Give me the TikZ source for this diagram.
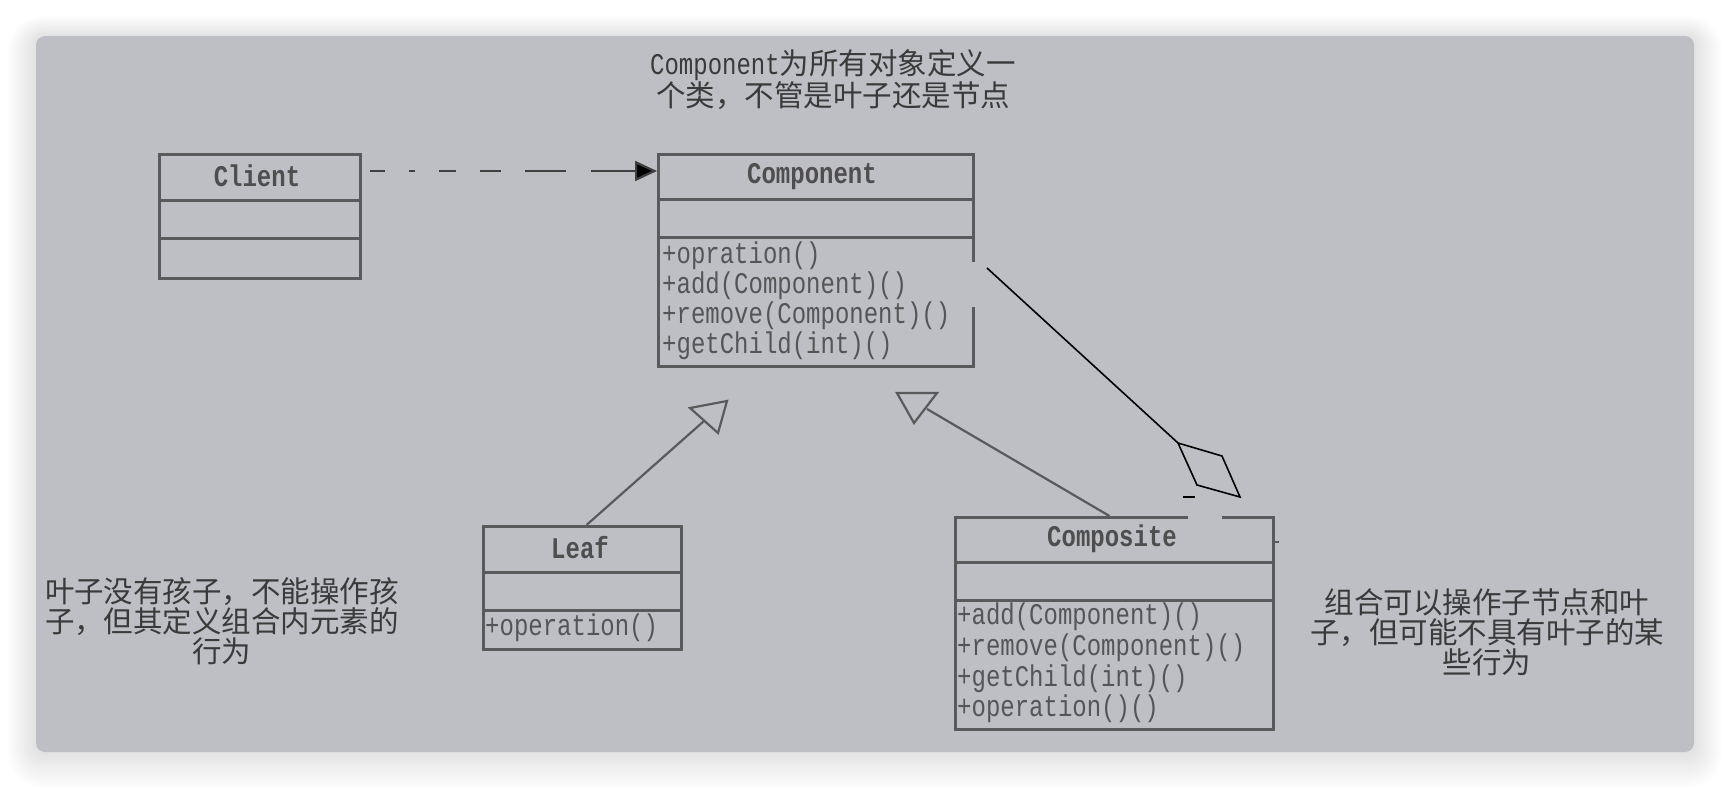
\documentclass[tikz,border=0pt]{standalone}
\usepackage{fontspec}
\setmainfont{Liberation Serif}
\newfontfamily\cjk{Noto Sans CJK SC}
\newfontfamily\umlfont[FakeStretch=0.8]{Liberation Mono}
\usetikzlibrary{arrows.meta,calc}
\definecolor{bg}{HTML}{BEBFC4}
\definecolor{boxline}{HTML}{5A5A5C}
\definecolor{txt}{HTML}{3A3A3A}
\definecolor{mtxt}{HTML}{555557}
\tikzset{
  umlbox/.style={draw=boxline, line width=3pt, rectangle, inner sep=0pt, anchor=north west},
  divider/.style={draw=boxline, line width=3pt},
  boxtitle/.style={font=\umlfont\bfseries\fontsize{30}{30}\selectfont, text=txt!85!bg, inner sep=0pt},
  method/.style={font=\umlfont\fontsize{30}{30}\selectfont, text=mtxt, anchor=west, inner sep=0pt},
  note/.style={font=\cjk\fontsize{29.5}{30}\selectfont, text=txt, align=center, inner sep=0pt},
  inherit/.style={draw=boxline, line width=2.2pt},
  compose/.style={draw=black, line width=1.6pt},
  depend/.style={draw=boxline!70!black, line width=2.2pt,
    dash pattern=on 15pt off 24pt on 6pt off 24pt on 17pt off 24pt on 21pt off 24pt on 41pt off 25pt on 300pt,
    -{Triangle[length=22pt,width=20pt,fill=black]}},
}
\begin{document}
\begin{tikzpicture}[x=1pt,y=-1pt]
\useasboundingbox (0,0) rectangle (1730,788);
\fill[white] (0,0) rectangle (1730,788);
% soft shadow
\foreach \i in {1,...,14}{
  \fill[black, fill opacity=0.008, rounded corners={(8+\i*2)*1pt}]
    ({36-\i*2},{37-\i*1.5}) rectangle ({1694+\i*2},{752+\i*2.6});
}
\fill[bg, rounded corners=9pt] (36,36) rectangle (1694,752);

% title note
\node[note] (title) at (833,80)
  {{\umlfont\fontsize{30}{30}\selectfont Component}为所有对象定义一\\个类，不管是叶子还是节点};

% Client
\node[umlbox, minimum width=201pt, minimum height=124pt] (client) at (158,153) {};
\draw[divider] (158,200) -- (359,200);
\draw[divider] (158,238) -- (359,238);
\node[boxtitle] (clientname) at (257,176) {Client};

% Component
\node[umlbox, minimum width=315pt, minimum height=212pt] (component) at (657,153) {};
\draw[divider] (657,199) -- (972,199);
\draw[divider] (657,237) -- (972,237);
\node[boxtitle] (componentname) at (812,177) {Component};
\node[method] (cm1) at (662,256) {+opration()};
\node[method] (cm2) at (662,286) {+add(Component)()};
\node[method] (cm3) at (662,316) {+remove(Component)()};
\node[method] (cm4) at (662,346) {+getChild(int)()};
\fill[bg] (969,262) rectangle (976,307);

% Leaf
\node[umlbox, minimum width=198pt, minimum height=123pt] (leaf) at (482,525) {};
\draw[divider] (482,572) -- (680,572);
\draw[divider] (482,610) -- (680,610);
\node[boxtitle] (leafname) at (580,548) {Leaf};
\node[method] (lm1) at (485,628) {+operation()};

% Composite
\node[umlbox, minimum width=318pt, minimum height=212pt] (composite) at (954,516) {};
\draw[divider] (954,562) -- (1272,562);
\draw[divider] (954,600) -- (1272,600);
\node[boxtitle] (compositename) at (1112,539) {Composite};
\node[method] (pm1) at (957,617) {+add(Component)()};
\node[method] (pm2) at (957,648) {+remove(Component)()};
\node[method] (pm3) at (957,679) {+getChild(int)()};
\node[method] (pm4) at (957,709) {+operation()()};
\fill[bg] (1188,512) rectangle (1222,519);
\draw[boxline, line width=2.5pt] (1272,542) -- (1279,542);

% notes
\node[note] (leafnote) at (222,621) {叶子没有孩子，不能操作孩\\子，但其定义组合内元素的\\行为};
\node[note] (compnote) at (1487,632) {组合可以操作子节点和叶\\子，但可能不具有叶子的某\\些行为};

% dependency Client -> Component
\coordinate (dep) at (0,171);
\draw[depend, shorten <=8pt] (client.east |- dep) -- (component.west |- dep);

% generalization Leaf -> Component
\coordinate (leafhead) at (704,421);
\draw[inherit] ([xshift=4pt]leaf.north) -- (leafhead);
\draw[inherit, line join=miter] (690,408) -- (727,401) -- (718,433) -- cycle;

% generalization Composite -> Component
\coordinate (comphead) at (927,409);
\draw[inherit] ([xshift=-5pt]composite.north) -- (comphead);
\draw[inherit, line join=miter] (897,393) -- (937,393) -- (914,423) -- cycle;

% composition Component <>- Composite
\coordinate (cstart) at (987,268);
\coordinate (dtop) at (1178,443);
\draw[compose] (cstart) -- (dtop);
\draw[compose, line join=miter] (dtop) -- (1222,456) -- (1240,497) -- (1197,485) -- cycle;
\draw[compose] (1183,497) -- (1195,497);
\end{tikzpicture}
\end{document}
